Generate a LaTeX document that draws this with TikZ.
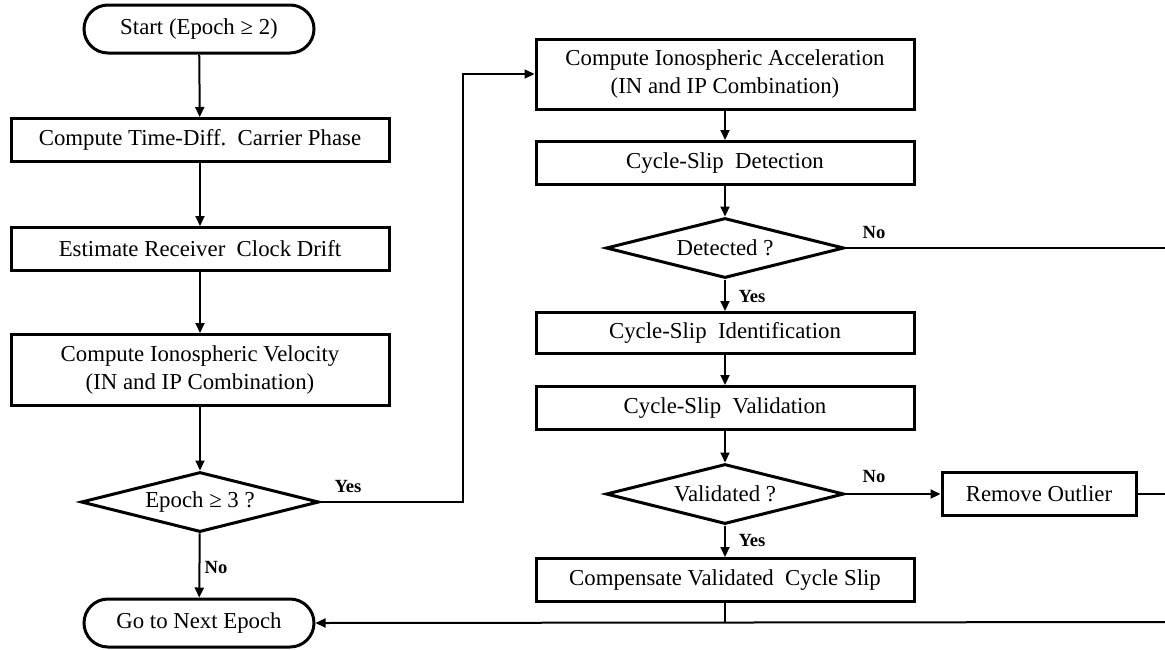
\documentclass[tikz,border=0pt]{standalone}
\usepackage{fontspec}
\setmainfont{Liberation Serif}
\usetikzlibrary{shapes.geometric,arrows.meta}
\begin{document}
\begin{tikzpicture}[x=0.5pt,y=-0.5pt,
  every node/.style={font=\fontsize{11.4pt}{13.8pt}\selectfont},
  box/.style={draw,line width=1.5pt,inner sep=0pt,minimum width=189pt,minimum height=21.5pt,align=center},
  tall/.style={box,minimum height=35.5pt},
  term/.style={draw,line width=1.5pt,inner sep=0pt,minimum width=115pt,minimum height=24pt,rounded corners=12pt},
  dec/.style={draw,diamond,line width=1.5pt,inner sep=0pt,aspect=3.9,minimum width=119pt,minimum height=30pt},
  lbl/.style={font=\bfseries\fontsize{9.3pt}{11pt}\selectfont,inner sep=0pt},
  conn/.style={line width=1pt},
  arr/.style={line width=1pt,-{Triangle[length=5pt,width=4.5pt]}}
]
\useasboundingbox (0,0) rectangle (1165,649);
% left column
\node[term] (start) at (199,29) {Start (Epoch ≥ 2)};
\node[box] (tdcp) at (200,140) {Compute Time-Diff.\ \ Carrier Phase};
\node[box] (clk) at (200,249) {Estimate Receiver\ \ Clock Drift};
\node[tall] (vel) at (200,370) {Compute Ionospheric Velocity\\(IN and IP Combination)};
\node[dec] (ep3) at (200,502) {Epoch ≥ 3 ?};
\node[term] (next) at (199,623) {Go to Next Epoch};
% right column
\node[tall,minimum height=35pt] (acc) at (725,74) {Compute Ionospheric Acceleration\\(IN and IP Combination)};
\node[box] (detn) at (725,163) {Cycle-Slip\ \ Detection};
\node[dec] (dtd) at (725,248) {Detected ?};
\node[box,minimum height=20.5pt] (ident) at (725,333) {Cycle-Slip\ \ Identification};
\node[box] (valn) at (725,408) {Cycle-Slip\ \ Validation};
\node[dec] (vld) at (725,494) {Validated ?};
\node[draw,line width=1.5pt,inner sep=0pt,minimum width=97pt,minimum height=21.5pt] (rem) at (1039,494) {Remove Outlier};
\node[box] (comp) at (725,580) {Compensate Validated\ \ Cycle Slip};
% coordinates
\coordinate (c1) at (463,74);
\coordinate (r1) at (1165,248);
\coordinate (r2) at (1165,494);
\coordinate (r3) at (1165,622);
\coordinate (j) at (725,622);
% connectors
\draw[arr] (start) -- (tdcp);
\draw[arr] (tdcp) -- (clk);
\draw[arr] (clk) -- (vel);
\draw[arr] (vel) -- (ep3);
\draw[arr] (ep3) -- (next);
\draw[arr] (ep3.east) -| (c1) -- (acc.west);
\draw[arr] (acc) -- (detn);
\draw[arr] (detn) -- (dtd);
\draw[arr] (dtd) -- (ident);
\draw[arr] (ident) -- (valn);
\draw[arr] (valn) -- (vld);
\draw[arr] (vld) -- (comp);
\draw[arr] (vld.east) -- (rem.west);
\draw[conn] (dtd.east) -- (r1);
\draw[conn] (rem.east) -- (r2);
\draw[conn] (comp.south) -- (j);
\draw[arr] (r3) -- (next.east);
% labels
\node[lbl] (l1) at (348,486) {Yes};
\node[lbl] (l2) at (216,567) {No};
\node[lbl] (l3) at (874,232) {No};
\node[lbl] (l4) at (752,296) {Yes};
\node[lbl] (l5) at (874,476) {No};
\node[lbl] (l6) at (752,540) {Yes};
\end{tikzpicture}
\end{document}
